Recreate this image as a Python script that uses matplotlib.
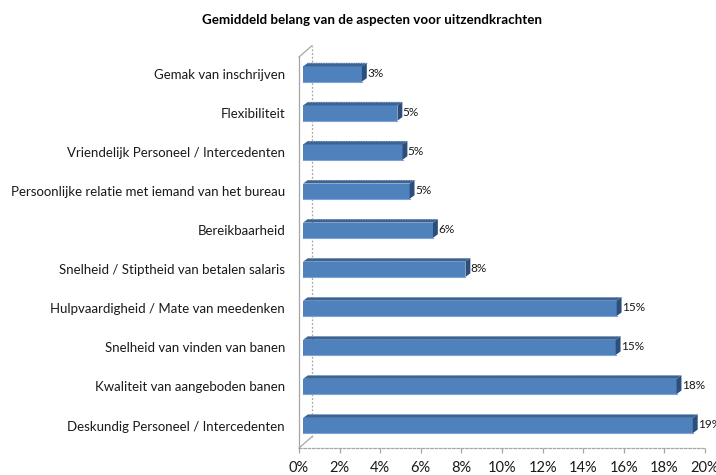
import matplotlib
matplotlib.use("Agg")
import matplotlib.pyplot as plt
from matplotlib.patches import Polygon

plt.rcParams['font.family'] = ['Lato', 'DejaVu Sans']

# gegevens (van onder naar boven)
aspecten = [
    "Deskundig Personeel / Intercedenten",
    "Kwaliteit van aangeboden banen",
    "Snelheid van vinden van banen",
    "Hulpvaardigheid / Mate van meedenken",
    "Snelheid / Stiptheid van betalen salaris",
    "Bereikbaarheid",
    "Persoonlijke relatie met iemand van het bureau",
    "Vriendelijk Personeel / Intercedenten",
    "Flexibiliteit",
    "Gemak van inschrijven",
]
belang = [19.2, 18.4, 15.4, 15.45, 8.0, 6.4, 5.25, 4.9, 4.65, 2.9]
x_ticks = [0, 2, 4, 6, 8, 10, 12, 14, 16, 18, 20]

kleur_voor = '#4F81BD'
kleur_top = '#3B6494'
kleur_zij = '#2C4E7A'
kleur_lijn = '#A6A6A6'

fig = plt.figure(figsize=(7.16, 4.75), dpi=100)
ax = fig.add_axes([299 / 716, 27 / 475, 406 / 716, 391 / 475])

y = list(range(len(aspecten)))
start = 0.2      # balken staan iets achter de voorkant
h = 0.39         # balkhoogte
dx, dy = 0.24, 0.09   # diepte van de balk
wx, wy = 0.64, 0.29   # diepte van de wand

ax.set_xlim(0, 20)
ax.set_ylim(-0.576, 9.435)

# wand links en vloer
ax.plot([0, 0], [-0.576, 9.435], color=kleur_lijn, lw=0.9, clip_on=False)
ax.plot([wx, wx], [-0.576 + wy, 9.435 + wy], color=kleur_lijn, lw=0.9,
        ls=(0, (1.5, 1.5)), clip_on=False)
ax.plot([0, wx], [9.435, 9.435 + wy], color=kleur_lijn, lw=0.9, clip_on=False)
ax.plot([0, wx], [-0.576, -0.576 + wy], color=kleur_lijn, lw=0.9, clip_on=False)

bars = ax.barh(y, belang, height=h, left=start, color=kleur_voor,
               edgecolor='none', zorder=3)

for yi, v in zip(y, belang):
    top = yi + h / 2
    bot = yi - h / 2
    x1 = start + v
    ax.add_patch(Polygon([(start, top), (x1, top), (x1 + dx, top + dy),
                          (start + dx, top + dy)], closed=True,
                         facecolor=kleur_top, edgecolor='none', zorder=3))
    ax.add_patch(Polygon([(x1, bot), (x1, top), (x1 + dx, top + dy),
                          (x1 + dx, bot + dy)], closed=True,
                         facecolor=kleur_zij, edgecolor='none', zorder=3))
    # stippellijn op de bovenrand
    ax.plot([start + dx, x1 + dx], [top + dy, top + dy], color='#9DB3D0',
            lw=0.6, ls=(0, (1, 1)), zorder=4)
    ax.plot([start, x1], [bot, bot], color='#7FA3D3', lw=0.8, zorder=4)
    ax.text(x1 + dx + 0.02, yi + 0.02, "%d%%" % round(v), fontsize=8.5,
            ha='left', va='center', color='#1a1a1a', zorder=5, clip_on=False)

for s in ['top', 'right', 'left']:
    ax.spines[s].set_visible(False)
ax.spines['bottom'].set_color(kleur_lijn)
ax.spines['bottom'].set_linestyle((0, (2, 1.5)))
ax.spines['bottom'].set_linewidth(0.9)

ax.set_xticks(x_ticks)
ax.set_xticklabels(["%d%%" % t for t in x_ticks])
ax.tick_params(axis='x', direction='out', length=3.6, width=0.9,
               color=kleur_lijn, labelsize=10.5, pad=5.5, labelcolor='#1a1a1a')

ax.set_yticks(y)
ax.set_yticklabels(aspecten)
ax.tick_params(axis='y', length=0, pad=10, labelsize=9.5, labelcolor='#1a1a1a')

fig.text(0.52, 0.958, "Gemiddeld belang van de aspecten voor uitzendkrachten",
         ha='center', va='center', fontsize=9.6, fontweight='bold')

fig.savefig("out.png", dpi=100)
